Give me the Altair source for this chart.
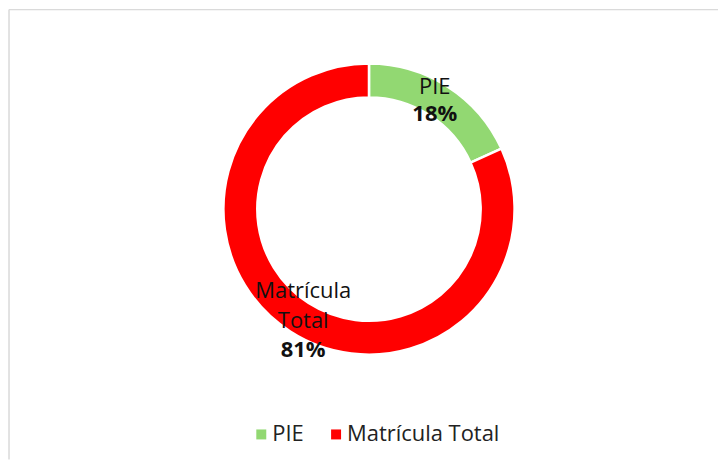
import altair as alt
import pandas as pd

categories = ["PIE", "Matrícula Total"]
values = [18, 81]
pct_labels = ["18%", "81%"]
name_labels = ["PIE", "Matrícula\nTotal"]
colors = ["#92D872", "#FF0000"]

df = pd.DataFrame({
    "cat": categories,
    "value": values,
    "pct": pct_labels,
    "name": name_labels,
    "order": list(range(len(categories))),
})

W, H = 711, 451
CX, CY = 361, 200
FONT = "Open Sans"
FS = 22

base = alt.Chart(df)

theta = alt.Theta("value:Q", stack=True)
order = alt.Order("order:Q")

arc = base.mark_arc(outerRadius=146, innerRadius=112, stroke="white", strokeWidth=2.5).encode(
    theta=theta,
    order=order,
    x=alt.value(CX),
    y=alt.value(CY),
    color=alt.Color(
        "cat:N",
        scale=alt.Scale(domain=categories, range=colors),
        sort=categories,
        legend=alt.Legend(
            title=None,
            orient="none",
            direction="horizontal",
            legendX=242,
            legendY=415,
            padding=0,
            symbolType="square",
            symbolSize=100,
            symbolStrokeWidth=0,
            labelFont=FONT,
            labelFontSize=FS,
            labelColor="#222222",
            labelOffset=0,
            columnPadding=21,
        ),
    ),
)


def label(field, bold, dy_map):
    layers = []
    for cat, dy in dy_map.items():
        layers.append(
            base.mark_text(
                font=FONT,
                fontSize=FS,
                fontWeight="bold" if bold else "normal",
                color="#111111",
                align="center",
                baseline="middle",
                lineBreak="\n",
                lineHeight=30,
                dy=dy,
            ).encode(
                theta=theta,
                order=order,
                x=alt.value(CX),
                y=alt.value(CY),
                radius=alt.value(122),
                text=alt.condition(alt.datum.cat == cat, f"{field}:N", alt.value("")),
            )
        )
    return layers


labels = label("name", False, {"PIE": -20, "Matrícula Total": -20}) + label(
    "pct", True, {"PIE": 7, "Matrícula Total": 39}
)

frame_top = alt.Chart(df).mark_rule(color="#d9d9d9", strokeWidth=1).encode(
    x=alt.value(0), x2=alt.value(W), y=alt.value(0)
)
frame_left = alt.Chart(df).mark_rule(color="#d9d9d9", strokeWidth=1).encode(
    x=alt.value(0), y=alt.value(0), y2=alt.value(H)
)

chart = alt.layer(frame_top, frame_left, arc, *labels).properties(
    width=W, height=H, padding=0, background="white"
).configure_view(stroke=None)

chart.save("out.html", embed_options={"renderer": "svg", "actions": False})
